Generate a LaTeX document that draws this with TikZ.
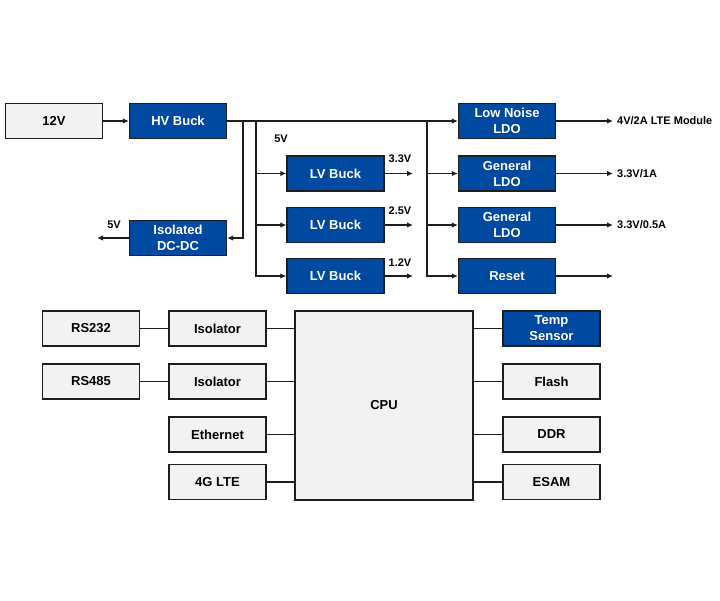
\documentclass[tikz,border=0pt]{standalone}
\usepackage{fontspec}
\setmainfont{Liberation Sans}
\usetikzlibrary{arrows.meta}
\definecolor{bluebox}{HTML}{0049A0}
\definecolor{graybox}{HTML}{F2F2F2}
\definecolor{edgec}{HTML}{1E1E1E}
\begin{document}
\begin{tikzpicture}[x=1pt,y=-1pt,
  box/.style={draw=edgec,line width=1.3pt,minimum width=97pt,minimum height=35pt,inner sep=1pt,align=center,font=\fontsize{13}{16}\selectfont\bfseries},
  bbox/.style={box,fill=bluebox,text=white},
  gbox/.style={box,fill=graybox,text=black},
  wire/.style={draw=edgec,line width=1.4pt},
  arr/.style={wire,-{Latex[length=6pt,width=5.5pt]}},
  lbl/.style={font=\fontsize{11}{13}\selectfont\bfseries,inner sep=0pt}]
\useasboundingbox (0,0) rectangle (720,600);
% top power section
\node[gbox] (v12) at (54,121) {12V};
\node[bbox] (hv) at (178,121) {HV Buck};
\node[bbox] (iso) at (178,238) {Isolated\\DC-DC};
\node[bbox] (lv1) at (335.5,173.5) {LV Buck};
\node[bbox] (lv2) at (335.5,225) {LV Buck};
\node[bbox] (lv3) at (335.5,276) {LV Buck};
\node[bbox] (ln) at (507,121) {Low Noise\\LDO};
\node[bbox] (g1) at (507,173.5) {General\\LDO};
\node[bbox] (g2) at (507,225) {General\\LDO};
\node[bbox] (rst) at (507,276) {Reset};
\coordinate (j1) at (243,121);
\coordinate (j2) at (256,121);
\coordinate (j3) at (427,121);
\coordinate (outx) at (613,0);
\coordinate (lvx) at (413,0);
\coordinate (isox) at (97,0);
\draw[arr] (v12) -- (hv);
\draw[arr] (hv) -- (ln);
\draw[arr] (j1) |- (iso.east);
\draw[arr] (j2) |- (lv3.west);
\draw[arr] (j2 |- lv1.west) -- (lv1.west);
\draw[arr] (j2 |- lv2.west) -- (lv2.west);
\draw[arr] (j3) |- (rst.west);
\draw[arr] (j3 |- g1.west) -- (g1.west);
\draw[arr] (j3 |- g2.west) -- (g2.west);
\draw[arr] (iso.west) -- (iso.west -| isox);
\draw[arr] (lv1.east) -- (lv1.east -| lvx);
\draw[arr] (lv2.east) -- (lv2.east -| lvx);
\draw[arr] (lv3.east) -- (lv3.east -| lvx);
\draw[arr] (ln.east) -- (ln.east -| outx) coordinate (o1);
\draw[arr] (g1.east) -- (g1.east -| outx) coordinate (o2);
\draw[arr] (g2.east) -- (g2.east -| outx) coordinate (o3);
\draw[arr] (rst.east) -- (rst.east -| outx);
\node[lbl] (l5a) at (281,139) {5V};
\node[lbl] (l5b) at (114,225) {5V};
\node[lbl] (l33) at (400,159) {3.3V};
\node[lbl] (l25) at (400,211) {2.5V};
\node[lbl] (l12) at (400,263) {1.2V};
\node[lbl,anchor=west] (t1) at ([xshift=4pt]o1) {4V/2A LTE Module};
\node[lbl,anchor=west] (t2) at ([xshift=4pt]o2) {3.3V/1A};
\node[lbl,anchor=west] (t3) at ([xshift=4pt]o3) {3.3V/0.5A};
% bottom section
\node[gbox,minimum width=178pt,minimum height=189pt] (cpu) at (384,405.5) {CPU};
\node[gbox] (rs232) at (91,328.5) {RS232};
\node[gbox] (is1) at (217.5,328.5) {Isolator};
\node[gbox] (rs485) at (91,381.5) {RS485};
\node[gbox] (is2) at (217.5,381.5) {Isolator};
\node[gbox] (eth) at (217.5,434.5) {Ethernet};
\node[gbox] (lte) at (217.5,482) {4G LTE};
\node[bbox] (temp) at (551.5,328.5) {Temp\\Sensor};
\node[gbox] (flash) at (551.5,381.5) {Flash};
\node[gbox] (ddr) at (551.5,434.5) {DDR};
\node[gbox] (esam) at (551.5,482) {ESAM};
\draw[wire] (rs232) -- (is1);
\draw[wire] (rs485) -- (is2);
\draw[wire] (is1.east) -- (is1.east -| cpu.west);
\draw[wire] (is2.east) -- (is2.east -| cpu.west);
\draw[wire] (eth.east) -- (eth.east -| cpu.west);
\draw[wire] (lte.east) -- (lte.east -| cpu.west);
\draw[wire] (temp.west) -- (temp.west -| cpu.east);
\draw[wire] (flash.west) -- (flash.west -| cpu.east);
\draw[wire] (ddr.west) -- (ddr.west -| cpu.east);
\draw[wire] (esam.west) -- (esam.west -| cpu.east);
\end{tikzpicture}
\end{document}
